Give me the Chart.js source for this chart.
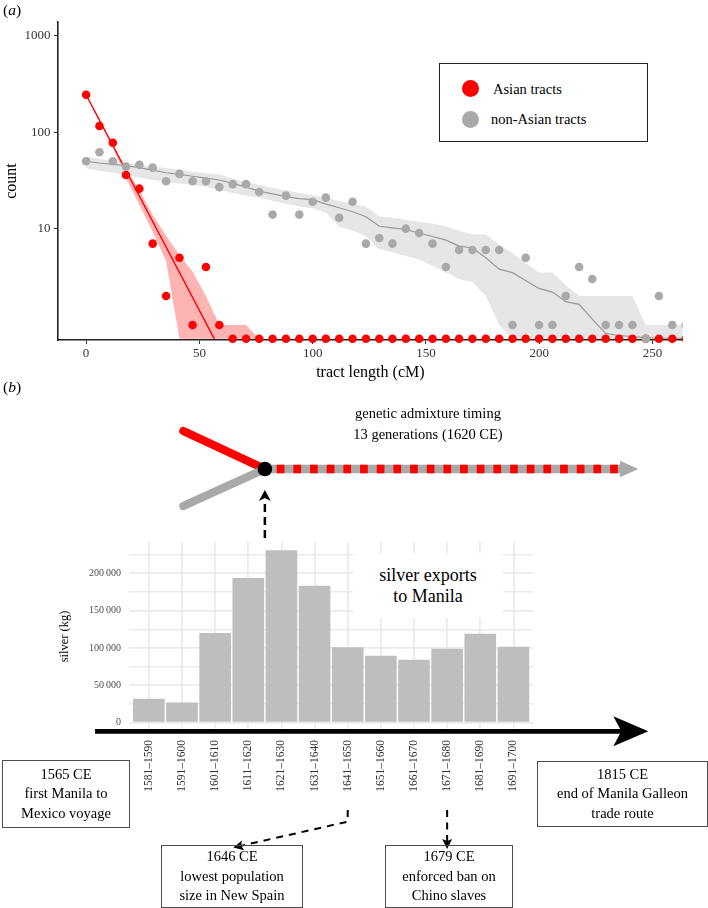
<!DOCTYPE html>
<html>
<head>
<meta charset="utf-8">
<script src="https://cdn.jsdelivr.net/npm/chart.js@4.4.1/dist/chart.umd.min.js"></script>
<style>
  body { margin: 0; background: #fff; }
  #page { position: relative; width: 708px; height: 908px; overflow: hidden;
          font-family: 'Liberation Serif', 'Times New Roman', serif; color: #000; }
  canvas { position: absolute; left: 0; }
  #tracts { top: 0; }
  #silver { top: 380px; }
  .txt { position: absolute; white-space: nowrap; transform: translate(-50%, -50%); }
  .panel { position: absolute; left: 3px; font-size: 15.5px; }
  .box { position: absolute; box-sizing: border-box; border: 1.5px solid #4d4d4d; background: transparent;
         display: flex; align-items: center; justify-content: center; text-align: center;
         font-size: 14.5px; line-height: 19.5px; }
  #legend { position: absolute; left: 439px; top: 63px; width: 209px; height: 79px;
            box-sizing: border-box; border: 1.5px solid #222; background: #fff; }
  #legend .dot { position: absolute; width: 17px; height: 17px; border-radius: 50%; }
  #legend .lab { position: absolute; font-size: 14.5px; transform: translateY(-50%); white-space: nowrap; }
  #silverLabel { position: absolute; left: 353px; top: 553px; width: 150px; height: 65px; background: #fff;
                 display: flex; align-items: center; justify-content: center; text-align: center;
                 font-size: 18px; line-height: 21px; }
</style>
</head>
<body>
<div id="page">
  <canvas id="tracts" width="708" height="390"></canvas>
  <canvas id="silver" width="708" height="528"></canvas>

  <div class="panel" style="top:1px">(<i>a</i>)</div>
  <div class="panel" style="top:378px">(<i>b</i>)</div>

  <div id="legend"></div>

  <div class="txt" style="left:428px;top:413px;font-size:14.5px">genetic admixture timing</div>
  <div class="txt" style="left:428px;top:434px;font-size:14.5px">13 generations (1620 CE)</div>

  <div id="silverLabel">silver exports<br>to Manila</div>

  <div class="box" style="left:2px;top:760px;width:128px;height:68px">1565 CE<br>first Manila to<br>Mexico voyage</div>
  <div class="box" style="left:537px;top:761px;width:171px;height:66px">1815 CE<br>end of Manila Galleon<br>trade route</div>
  <div class="box" style="left:161px;top:845px;width:142px;height:63px">1646 CE<br>lowest population<br>size in New Spain</div>
  <div class="box" style="left:385px;top:845px;width:128px;height:63px">1679 CE<br>enforced ban on<br>Chino slaves</div>
</div>

<script>
// ---- panel (a): tract length distribution ----
const tractBins = [0, 5.9, 11.8, 17.6, 23.5, 29.4, 35.3, 41.2, 47.0, 52.9, 58.8, 64.7, 70.6, 76.4, 82.3,
  88.2, 94.1, 100.0, 105.8, 111.7, 117.6, 123.5, 129.4, 135.2, 141.1, 147.0, 152.9, 158.8, 164.6, 170.5,
  176.4, 182.3, 188.2, 194.0, 199.9, 205.8, 211.7, 217.6, 223.4, 229.3, 235.2, 241.1, 247.0, 252.8, 258.7, 264.6];

const asianCounts = [245, 116, 78, 36, 26, 7, 2, 5, 1, 4, 1, 0, 0, 0, 0, 0, 0, 0, 0, 0, 0, 0, 0,
  0, 0, 0, 0, 0, 0, 0, 0, 0, 0, 0, 0, 0, 0, 0, 0, 0, 0, 0, 0, 0, 0, 0];
const nonAsianCounts = [50, 62, 50, 44, 46, 43, 31, 37, 31, 31, 27, 29, 29, 24, 14, 22, 14, 19, 21, 13,
  19, 7, 8, 7, 10, 9, 7, 4, 6, 6, 6, 6, 1, 5, 1, 1, 2, 4, 3, 1, 1, 1, 0, 2, 1, 1];

// fitted exponential for Asian tracts (straight on log axis)
const asianFitX = [0, 56.6];
const asianFit = [245, 0.72];
const asianBandHigh = [250, 138, 75, 42.6, 25.2, 13.9, 8.5, 5.3, 3.6, 2.0, 1, 1, 1, 0];
const asianBandLow = [240, 128, 70, 33.6, 17.7, 9.3, 4.6, 0, 0, 0, 0, 0, 0, 0];

// smoothed non-Asian curve and its band
const nonAsianFit = [50, 48, 46.5, 45, 43, 40.5, 38, 36.5, 35, 33.5, 32, 29.5, 27, 24.5, 23, 21.5, 20.5,
  20, 18, 16.5, 15, 13.3, 10.6, 10.2, 9.8, 9.0, 8.3, 7.6, 6.6, 6.3, 5.0, 3.8, 3.5, 2.9, 2.4, 2.2, 1.75,
  1.64, 1.15, 0.82, 0.78, 0.76, 0.74, 0.73, 0.73, 0.73];
const nonAsianBandHigh = [55.6, 53, 50, 47.9, 46, 44, 42.5, 41, 39, 37.5, 36.6, 33, 30.5, 28.4, 26.5, 25,
  23.5, 22.4, 20.9, 19.4, 18.1, 16.9, 13.4, 13.0, 12.4, 11.8, 11.3, 10.6, 9.5, 8.7, 8.7, 6.8, 5.6, 4.4,
  3.5, 3.5, 2.6, 2.0, 2.0, 2.0, 2.0, 2.0, 1.0, 1.0, 1.0, 1.0];
const nonAsianBandLow = [42.3, 40, 38, 36, 34, 32, 30.5, 29.5, 28.5, 27.3, 25.2, 23.5, 22, 20.9, 19.5, 18,
  17, 16.3, 14.6, 10.5, 9.6, 8.3, 6.1, 5.7, 5.2, 4.8, 4.1, 3.5, 3.0, 2.8, 2.0, 1.0, 0, 0, 0, 0, 0, 0, 0,
  0, 0, 0, 0, 0, 0, 0];

const seriesNames = ['Asian tracts', 'non-Asian tracts'];
const countTicks = [10, 100, 1000];
const lengthTicks = [0, 50, 100, 150, 200, 250];

// ---- panel (b): silver exports ----
const periods = ['1581\u20131590', '1591\u20131600', '1601\u20131610', '1611\u20131620', '1621\u20131630',
  '1631\u20131640', '1641\u20131650', '1651\u20131660', '1661\u20131670', '1671\u20131680',
  '1681\u20131690', '1691\u20131700'];
const silverKg = [32000, 27000, 120000, 193500, 230500, 183000, 101000, 89500, 84000, 99000, 119000, 101500];
const silverTicks = [0, 25000, 50000, 75000, 100000, 125000, 150000, 175000, 200000, 225000];

const RED = '#FF0000';
const GREY = '#A9A9A9';
const FLOOR = 0.72;   // zero counts sit on the axis, like -Inf in ggplot

Chart.defaults.font.family = "'Liberation Serif', 'Times New Roman', serif";
Chart.defaults.color = '#333';

const pts = (ys, xs = tractBins) => ys.map((y, i) => ({ x: xs[i], y: y === 0 ? FLOOR : y }));

// legend
const legend = document.getElementById('legend');
[RED, GREY].forEach((c, i) => {
  const dot = document.createElement('span');
  dot.className = 'dot';
  dot.style.cssText = `left:22px;top:${16 + i * 30.5}px;background:${c}`;
  const lab = document.createElement('span');
  lab.className = 'lab';
  lab.style.cssText = `left:${i ? 51 : 53}px;top:${24.5 + i * 30.5}px`;
  lab.textContent = seriesNames[i];
  legend.append(dot, lab);
});

const noBand = { showLine: true, pointRadius: 0, borderWidth: 0, borderColor: 'transparent' };

new Chart(document.getElementById('tracts'), {
  type: 'scatter',
  data: {
    datasets: [
      { label: seriesNames[1], data: pts(nonAsianCounts), backgroundColor: GREY, borderWidth: 0,
        pointRadius: 4.3, clip: { left: false, top: false, right: 0, bottom: false } },
      { label: seriesNames[0], data: pts(asianCounts), backgroundColor: RED, borderWidth: 0,
        pointRadius: 4.3, clip: { left: false, top: false, right: 0, bottom: false } },
      { data: pts(asianFit, asianFitX), showLine: true, pointRadius: 0, borderColor: RED, borderWidth: 1.4 },
      { data: pts(nonAsianFit), showLine: true, pointRadius: 0, borderColor: '#999999', borderWidth: 1.2 },
      { data: pts(nonAsianBandHigh), ...noBand, fill: '+1', backgroundColor: '#E6E6E6' },
      { data: pts(nonAsianBandLow), ...noBand, fill: false },
      { data: pts(asianBandHigh), ...noBand, fill: '+1', backgroundColor: '#FFB4B4' },
      { data: pts(asianBandLow), ...noBand, fill: false }
    ]
  },
  options: {
    responsive: false,
    animation: false,
    events: [],
    layout: { padding: { left: 0, top: 22, right: 25.3, bottom: 0 } },
    plugins: { legend: { display: false }, tooltip: { enabled: false } },
    scales: {
      x: {
        type: 'linear', min: -12.4, max: 263.3,
        afterBuildTicks: s => { s.ticks = lengthTicks.map(v => ({ value: v })); },
        afterFit: s => { s.height = 50; },
        grid: { drawOnChartArea: false, drawTicks: true, tickLength: 4, color: '#333', lineWidth: 1 },
        border: { display: true, color: '#222', width: 1.6 },
        ticks: { padding: 1.5, font: { size: 13 }, color: '#333', callback: v => String(v) },
        title: { display: true, text: 'tract length (cM)', font: { size: 16 }, color: '#000',
                 padding: { top: 0, bottom: 7.4 } }
      },
      y: {
        type: 'logarithmic', min: FLOOR, max: 1393,
        afterBuildTicks: s => { s.ticks = countTicks.map(v => ({ value: v })); },
        afterFit: s => { s.width = 58; },
        grid: { drawOnChartArea: false, drawTicks: true, tickLength: 4, color: '#333', lineWidth: 1 },
        border: { display: true, color: '#222', width: 1.6 },
        ticks: { padding: 3.5, font: { size: 13 }, color: '#333', callback: v => String(v) },
        title: { display: true, text: 'count', font: { size: 16 }, color: '#000',
                 padding: { top: 2.5, bottom: 0 } }
      }
    }
  }
});

// arrow head pointing along angle, tip at (x, y)
function arrowHead(ctx, x, y, angle, len, half, notch, color) {
  ctx.save();
  ctx.translate(x, y);
  ctx.rotate(angle);
  ctx.beginPath();
  ctx.moveTo(0, 0);
  ctx.lineTo(-len, -half);
  ctx.lineTo(-len + notch, 0);
  ctx.lineTo(-len, half);
  ctx.closePath();
  ctx.fillStyle = color;
  ctx.fill();
  ctx.restore();
}

function dashedPath(ctx, points, dash, width) {
  ctx.save();
  ctx.setLineDash(dash);
  ctx.lineWidth = width;
  ctx.strokeStyle = '#000';
  ctx.beginPath();
  points.forEach(([px, py], i) => (i ? ctx.lineTo(px, py) : ctx.moveTo(px, py)));
  ctx.stroke();
  ctx.restore();
}

const timeline = {
  id: 'timeline',
  afterDraw(chart) {
    const { ctx, chartArea, scales: { x } } = chart;
    const base = chartArea.bottom;
    const admix = (x.getPixelForValue(3) + x.getPixelForValue(4)) / 2;   // 1620 CE
    const yAdm = 89;

    // main time axis
    ctx.save();
    ctx.strokeStyle = '#000';
    ctx.lineWidth = 4.7;
    ctx.beginPath();
    ctx.moveTo(95, base);
    ctx.lineTo(624, base);
    ctx.stroke();
    arrowHead(ctx, 648.3, base, 0, 35, 15, 8, '#000');

    // admixture branches
    ctx.lineCap = 'round';
    ctx.lineWidth = 8;
    ctx.strokeStyle = RED;
    ctx.beginPath();
    ctx.moveTo(admix - 81.6, yAdm - 38);
    ctx.lineTo(admix, yAdm);
    ctx.stroke();
    ctx.strokeStyle = GREY;
    ctx.beginPath();
    ctx.moveTo(admix - 81.6, yAdm + 37);
    ctx.lineTo(admix, yAdm);
    ctx.stroke();

    // mixed lineage arrow
    ctx.lineCap = 'butt';
    ctx.lineWidth = 8.3;
    ctx.strokeStyle = GREY;
    ctx.beginPath();
    ctx.moveTo(admix, yAdm);
    ctx.lineTo(621, yAdm);
    ctx.stroke();
    ctx.strokeStyle = RED;
    ctx.setLineDash([7.7, 8.97]);
    ctx.beginPath();
    ctx.moveTo(276.7, yAdm);
    ctx.lineTo(620, yAdm);
    ctx.stroke();
    ctx.setLineDash([]);
    arrowHead(ctx, 638.3, yAdm, 0, 18.3, 8.3, 0, GREY);

    ctx.fillStyle = '#000';
    ctx.beginPath();
    ctx.arc(admix, yAdm, 7.3, 0, Math.PI * 2);
    ctx.fill();
    ctx.restore();

    // admixture date down to the bars
    dashedPath(ctx, [[admix, 158], [admix, 119]], [8, 5], 2.5);
    arrowHead(ctx, admix, 110, -Math.PI / 2, 11, 6, 3, '#000');

    // 1646 and 1679 events
    const x46 = x.getPixelForValue(6);
    const x79 = x.getPixelForValue(9);
    const tip46 = [233.3, 467.5];
    const ang = Math.atan2(tip46[1] - 441.7, tip46[0] - x46);
    dashedPath(ctx, [[x46, 430], [x46, 441.7], [tip46[0] - 6 * Math.cos(ang), tip46[1] - 6 * Math.sin(ang)]], [7, 6], 2);
    arrowHead(ctx, tip46[0], tip46[1], ang, 10, 5, 2, '#000');
    dashedPath(ctx, [[x79, 430], [x79, 461]], [7, 5.5], 2);
    arrowHead(ctx, x79, 469, Math.PI / 2, 10, 5, 2, '#000');
  }
};

const fmtKg = v => String(v).replace(/\B(?=(\d{3})+(?!\d))/g, '\u2009');

new Chart(document.getElementById('silver'), {
  type: 'bar',
  data: {
    datasets: [{
      data: silverKg.map((v, i) => ({ x: i, y: v })),
      backgroundColor: '#BEBEBE',
      borderWidth: 0,
      categoryPercentage: 1,
      barPercentage: 0.955
    }]
  },
  options: {
    responsive: false,
    animation: false,
    events: [],
    layout: { padding: { left: 54, top: 161.7, right: 174.7, bottom: 0 } },
    plugins: { legend: { display: false }, tooltip: { enabled: false } },
    scales: {
      x: {
        type: 'linear', min: -0.6, max: 11.6, offset: false,
        afterBuildTicks: s => { s.ticks = periods.map((p, i) => ({ value: i })); },
        afterFit: s => { s.height = 176.7; },
        grid: { offset: false, color: '#EBEBEB', lineWidth: 1.8, drawTicks: false },
        border: { display: false },
        ticks: { autoSkip: false, minRotation: 90, maxRotation: 90, padding: 8.7,
                 font: { size: 11.5 }, color: '#333', callback: v => periods[v] }
      },
      y: {
        min: -11525, max: 242025,
        afterBuildTicks: s => { s.ticks = silverTicks.map(v => ({ value: v })); },
        afterFit: s => { s.width = 75; },
        grid: { color: '#EBEBEB', lineWidth: c => (c.tick && c.tick.value % 50000 === 0 ? 1.8 : 1.4), drawTicks: false },
        border: { display: false },
        ticks: { autoSkip: false, padding: 8, font: { size: 10 }, color: '#4D4D4D',
                 callback: v => (v % 50000 === 0 ? fmtKg(v) : '') },
        title: { display: true, text: 'silver (kg)', font: { size: 12.5 }, color: '#000',
                 padding: { top: 3.5, bottom: 0 } }
      }
    }
  },
  plugins: [timeline]
});
</script>
</body>
</html>
